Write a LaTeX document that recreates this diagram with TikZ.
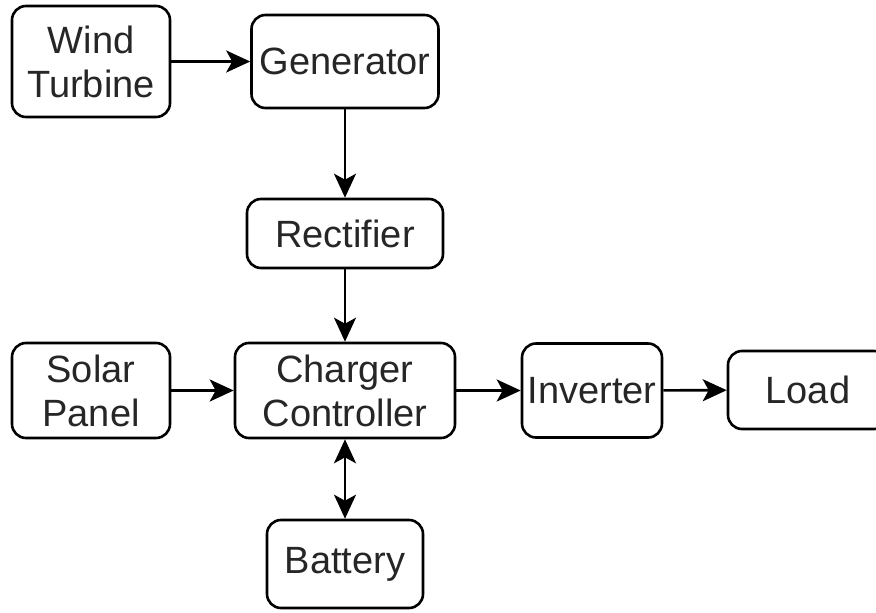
\documentclass[tikz,border=0pt]{standalone}
\usepackage{fontspec}
\setmainfont{Liberation Sans}
\usetikzlibrary{arrows.meta}
\definecolor{TextClr}{rgb}{0.15,0.15,0.15}

\tikzset{
  block/.style={draw=black, line width=2.6pt, rounded corners=14pt, inner sep=0pt,
    align=center, text=TextClr, font=\fontsize{38}{44}\selectfont},
  flow/.style={line width=2.6pt, -{Stealth[length=24pt,width=22pt,inset=6pt]}},
  bothflow/.style={line width=2.6pt, {Stealth[length=24pt,width=22pt,inset=6pt]}-{Stealth[length=24pt,width=22pt,inset=6pt]}}
}

\begin{document}
\begin{tikzpicture}[x=1pt,y=-1pt]
\useasboundingbox (0,0) rectangle (876,613);

% sources
\node[block, minimum width=158pt, minimum height=111pt] (wind) at (91,61.5) {Wind\\Turbine};
\node[block, minimum width=187pt, minimum height=93pt] (gen) at (345,61.5) {Generator};
\node[block, minimum width=196pt, minimum height=69pt] (rect) at (345,233.5) {Rectifier};
\node[block, minimum width=158pt, minimum height=95pt] (solar) at (91,390.5) {Solar\\Panel};

% middle row
\node[block, minimum width=220pt, minimum height=95pt] (charger) at (345,390.5) {Charger\\Controller};
\node[block, minimum width=140pt, minimum height=94pt] (inv) at (592,390.5) {Inverter};
\node[block, minimum width=160pt, minimum height=78pt] (load) at (808,390) {Load};
\node[block, minimum width=156pt, minimum height=88pt] (bat) at (345,564) {Battery};

% connectors
\draw[flow] (wind) -- (gen);
\draw[flow] (gen) -- (rect);
\draw[flow] (rect) -- (charger);
\draw[flow] (solar) -- (charger);
\draw[flow] (charger) -- (inv);
\draw[flow] (inv) -- (load);
\draw[bothflow] (charger) -- (bat);

\end{tikzpicture}
\end{document}
